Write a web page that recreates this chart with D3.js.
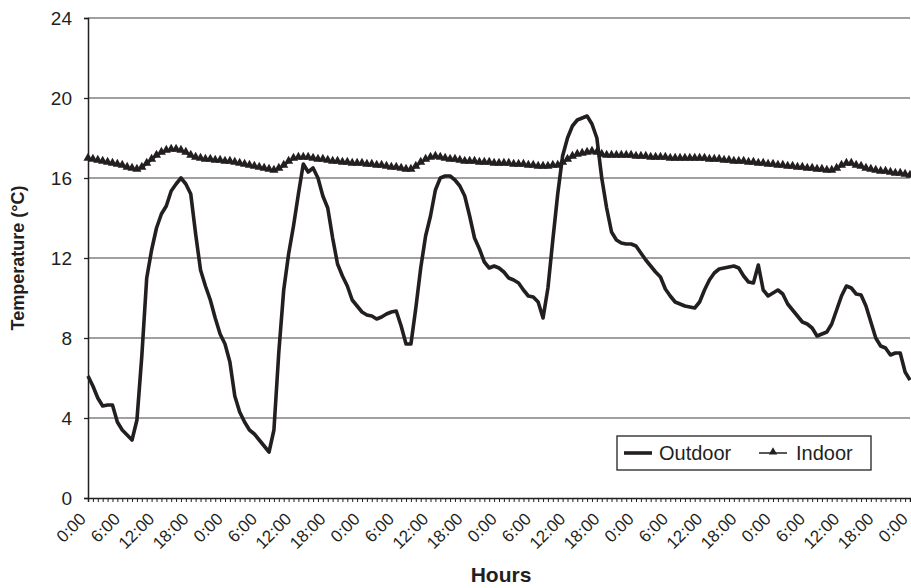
<!DOCTYPE html>
<html>
<head>
<meta charset="utf-8">
<script src="https://cdn.jsdelivr.net/npm/d3@7"></script>
<style>
  body { margin: 0; background: #fff; }
  svg text { font-family: "Liberation Sans", Arial, sans-serif; fill: #231f20; }
</style>
</head>
<body>
<svg id="chart" width="911" height="588"></svg>
<script>
// 169 readings, a time label on every 7th reading
var hourLabels = ['0:00', '6:00', '12:00', '18:00'];
var labelEvery = 7;
var yTicks = [0, 4, 8, 12, 16, 20, 24];

var outdoor = [
    6.1, 5.6, 5.0, 4.6, 4.65, 4.65, 3.8, 3.4, 3.15, 2.9,
    3.9, 7.1, 11.0, 12.4, 13.5, 14.2, 14.6, 15.35, 15.7, 16.0,
    15.7, 15.2, 13.2, 11.4, 10.6, 9.9, 9.0, 8.2, 7.7, 6.8,
    5.1, 4.3, 3.8, 3.4, 3.2, 2.9, 2.6, 2.3, 3.4, 7.3,
    10.4, 12.2, 13.6, 15.2, 16.7, 16.3, 16.5, 16.0, 15.1, 14.5,
    13.0, 11.7, 11.1, 10.6, 9.9, 9.6, 9.3, 9.15, 9.1, 8.95,
    9.05, 9.2, 9.3, 9.35, 8.6, 7.7, 7.7, 9.5, 11.5, 13.1,
    14.1, 15.4, 16.0, 16.1, 16.1, 15.9, 15.6, 15.1, 14.1, 13.0,
    12.45, 11.8, 11.5, 11.6, 11.5, 11.3, 11.0, 10.9, 10.75, 10.4,
    10.1, 10.05, 9.8, 9.0, 10.5, 12.9, 15.2, 17.1, 18.0, 18.6,
    18.9, 19.0, 19.1, 18.7, 18.0, 16.0, 14.5, 13.3, 12.9, 12.75,
    12.7, 12.7, 12.6, 12.25, 11.9, 11.6, 11.3, 11.05, 10.45, 10.1,
    9.8, 9.7, 9.6, 9.55, 9.5, 9.8, 10.4, 10.9, 11.25, 11.45,
    11.5, 11.55, 11.6, 11.5, 11.1, 10.8, 10.75, 11.65, 10.4, 10.1,
    10.25, 10.4, 10.2, 9.7, 9.4, 9.1, 8.8, 8.7, 8.5, 8.1,
    8.2, 8.3, 8.7, 9.4, 10.1, 10.6, 10.5, 10.2, 10.15, 9.6,
    8.8, 8.0, 7.6, 7.5, 7.15, 7.25, 7.25, 6.3, 5.9
];

var indoor = [
    16.95, 16.9, 16.85, 16.8, 16.75, 16.7, 16.65, 16.6, 16.5, 16.45,
    16.4, 16.5, 16.7, 16.9, 17.1, 17.25, 17.35, 17.4, 17.4, 17.35,
    17.25, 17.1, 17.0, 16.95, 16.9, 16.9, 16.85, 16.85, 16.8, 16.8,
    16.75, 16.7, 16.65, 16.6, 16.55, 16.5, 16.45, 16.4, 16.35, 16.45,
    16.6, 16.8, 16.95, 17.0, 17.0, 17.0, 16.95, 16.9, 16.9, 16.85,
    16.8, 16.8, 16.75, 16.75, 16.7, 16.7, 16.7, 16.65, 16.65, 16.6,
    16.6, 16.55, 16.5, 16.5, 16.45, 16.4, 16.4, 16.55, 16.75, 16.9,
    17.0, 17.05, 17.0, 16.95, 16.9, 16.9, 16.85, 16.8, 16.8, 16.8,
    16.75, 16.75, 16.75, 16.7, 16.7, 16.7, 16.7, 16.65, 16.65, 16.65,
    16.6, 16.6, 16.55, 16.55, 16.55, 16.6, 16.6, 16.75, 16.9, 17.05,
    17.15, 17.2, 17.25, 17.3, 17.25, 17.15, 17.1, 17.1, 17.1, 17.1,
    17.1, 17.1, 17.05, 17.05, 17.05, 17.0, 17.0, 17.0, 17.0, 16.95,
    16.95, 16.95, 16.95, 16.95, 16.95, 16.95, 16.95, 16.9, 16.9, 16.9,
    16.85, 16.85, 16.8, 16.8, 16.8, 16.75, 16.75, 16.7, 16.7, 16.65,
    16.65, 16.6, 16.6, 16.55, 16.55, 16.5, 16.5, 16.45, 16.45, 16.4,
    16.4, 16.35, 16.35, 16.45, 16.6, 16.7, 16.7, 16.6, 16.55, 16.45,
    16.4, 16.35, 16.3, 16.3, 16.25, 16.2, 16.2, 16.15, 16.1
];

var ink = '#231f20';
var svg = d3.select('#chart');

var plotLeft = 88, plotRight = 910, plotTop = 18, plotBottom = 498;

var x = d3.scaleLinear().domain([0, outdoor.length - 1]).range([plotLeft, plotRight]);
var y = d3.scaleLinear().domain([0, 24]).range([plotBottom, plotTop]);

// gridlines
svg.append('g')
    .selectAll('line')
    .data(yTicks.slice(1))
    .enter().append('line')
        .attr('x1', plotLeft)
        .attr('x2', plotRight)
        .attr('y1', function(d) { return y(d); })
        .attr('y2', function(d) { return y(d); })
        .style('stroke', '#808080')
        .style('stroke-width', 1.3);

// y axis
var yAxis = svg.append('g')
    .attr('transform', 'translate(' + plotLeft + ',0)')
    .call(d3.axisLeft(y).tickValues(yTicks).tickSize(4).tickPadding(12).tickFormat(d3.format('d')));
yAxis.select('.domain').style('stroke', ink).style('stroke-width', 1.5);
yAxis.selectAll('.tick line').style('stroke', ink).style('stroke-width', 1.3);
yAxis.selectAll('text').style('font-size', '19px').style('fill', ink);

// x axis: a tick on every reading
var xAxis = svg.append('g')
    .attr('transform', 'translate(0,' + plotBottom + ')')
    .call(d3.axisBottom(x)
        .tickValues(d3.range(outdoor.length))
        .tickSize(4)
        .tickFormat(function(d) {
            return d % labelEvery === 0 ? hourLabels[(d / labelEvery) % 4] : '';
        }));
xAxis.select('.domain').style('stroke', ink).style('stroke-width', 1.5);
xAxis.selectAll('.tick line').style('stroke', ink).style('stroke-width', 1);
xAxis.selectAll('text')
    .style('font-size', '17px')
    .style('fill', ink)
    .attr('text-anchor', 'end')
    .attr('dy', 0)
    .attr('y', 0)
    .attr('transform', 'translate(-1.5,22) rotate(-45)');

// series
var line = d3.line()
    .x(function(d, i) { return x(i); })
    .y(function(d) { return y(d); });

svg.append('path')
    .datum(indoor)
    .attr('d', line)
    .style('fill', 'none')
    .style('stroke', ink)
    .style('stroke-width', 2);

svg.append('g')
    .selectAll('path')
    .data(indoor)
    .enter().append('path')
        .attr('transform', function(d, i) { return 'translate(' + x(i) + ',' + (y(d) - 1) + ')'; })
        .attr('d', d3.symbol(d3.symbolTriangle).size(36))
        .style('fill', ink);

svg.append('path')
    .datum(outdoor)
    .attr('d', line)
    .style('fill', 'none')
    .style('stroke', ink)
    .style('stroke-width', 3.6)
    .style('stroke-linejoin', 'round');

// legend
var legend = svg.append('g');
legend.append('rect')
    .attr('x', 617).attr('y', 436)
    .attr('width', 254).attr('height', 34)
    .style('fill', '#fff')
    .style('stroke', ink)
    .style('stroke-width', 1.3);
legend.append('line')
    .attr('x1', 624).attr('x2', 652).attr('y1', 453).attr('y2', 453)
    .style('stroke', ink).style('stroke-width', 3.6);
legend.append('text')
    .attr('x', 659).attr('y', 460)
    .style('font-size', '20px')
    .text('Outdoor');
legend.append('line')
    .attr('x1', 759).attr('x2', 787).attr('y1', 453).attr('y2', 453)
    .style('stroke', ink).style('stroke-width', 1.5);
legend.append('path')
    .attr('transform', 'translate(773,452)')
    .attr('d', d3.symbol(d3.symbolTriangle).size(30))
    .style('fill', ink);
legend.append('text')
    .attr('x', 796).attr('y', 460)
    .style('font-size', '20px')
    .text('Indoor');

// axis titles
svg.append('text')
    .attr('transform', 'translate(24,' + ((plotTop + plotBottom) / 2) + ') rotate(-90)')
    .attr('text-anchor', 'middle')
    .style('font-size', '18px')
    .style('font-weight', 'bold')
    .text('Temperature (°C)');

svg.append('text')
    .attr('x', (plotLeft + plotRight) / 2 + 2)
    .attr('y', 582)
    .attr('text-anchor', 'middle')
    .style('font-size', '21px')
    .style('font-weight', 'bold')
    .text('Hours');
</script>
</body>
</html>
